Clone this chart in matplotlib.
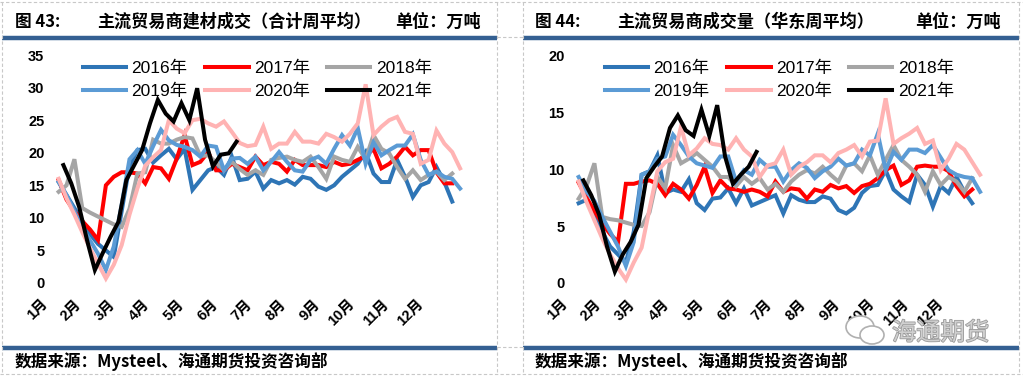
import matplotlib
matplotlib.use("Agg")
import matplotlib.pyplot as plt
import matplotlib.patheffects as pe
from matplotlib.lines import Line2D
from matplotlib.patches import Ellipse
import numpy as np

plt.rcParams['font.family'] = ['Liberation Sans', 'Noto Sans CJK SC']

# ---- data (weekly) ----
years = ['2016年', '2017年', '2018年', '2019年', '2020年', '2021年']
months = ['1月', '2月', '3月', '4月', '5月', '6月', '7月', '8月', '9月', '10月', '11月', '12月']

# left: 主流贸易商建材成交（合计周平均）
l2016 = [15.5, 13.5, 11.5, 9.5, 7.5, 6.0, 5.0, 4.0, 11.0, 18.0, 20.4, 20.6, 18.5, 19.6, 20.6, 19.0, 20.6,
         14.3, 15.8, 17.3, 17.8, 16.6, 19.4, 15.8, 16.0, 17.1, 14.5, 15.8, 15.3, 15.8, 15.1, 16.3, 16.0,
         14.8, 14.3, 15.0, 16.3, 17.3, 18.3, 20.1, 16.8, 15.5, 15.5, 18.9, 16.3, 13.2, 15.0, 15.5, 17.8,
         15.5, 12.5]
l2017 = [15.8, 12.8, 11.0, 9.5, 8.2, 6.6, 15.0, 16.3, 17.0, 17.0, 16.8, 15.3, 17.8, 17.6, 16.0, 19.1, 22.7,
         18.1, 18.6, 20.1, 17.3, 17.3, 18.3, 17.8, 17.3, 19.4, 18.1, 18.6, 18.3, 17.1, 18.9, 18.1, 18.1,
         18.1, 17.8, 18.6, 18.1, 18.3, 18.9, 19.5, 20.6, 17.6, 18.3, 19.4, 20.9, 19.6, 20.4, 20.4, 17.0,
         15.3, 15.3]
l2018 = [14.0, 15.0, 19.0, 11.5, 10.8, 10.2, 9.6, 9.0, 8.6, 11.4, 16.8, 17.0, 22.0, 21.4, 21.4, 22.0, 22.4,
         22.2, 19.5, 19.6, 18.5, 17.3, 18.6, 17.5, 16.6, 17.3, 16.6, 18.9, 19.2, 19.4, 18.9, 18.6, 19.4,
         17.8, 16.0, 19.4, 18.9, 18.6, 20.9, 19.0, 22.7, 20.6, 19.9, 17.8, 16.0, 17.3, 15.8, 16.6, 17.1,
         15.8, 16.8]
l2019 = [15.5, 13.5, 11.0, 8.5, 6.5, 4.5, 2.0, 5.6, 12.0, 19.0, 20.4, 18.3, 21.0, 23.5, 21.9, 21.2, 20.9,
         20.4, 19.4, 21.1, 20.9, 17.3, 19.1, 19.2, 18.3, 19.4, 17.3, 18.6, 20.1, 18.6, 17.3, 17.1, 18.9,
         19.4, 18.3, 20.6, 22.7, 21.1, 23.8, 18.3, 21.6, 19.6, 20.4, 21.1, 21.1, 22.8, 18.9, 16.6, 17.1,
         16.3, 16.0, 14.5]
l2020 = [16.0, 13.0, 10.5, 7.8, 5.3, 3.0, 0.7, 2.8, 5.8, 10.5, 14.5, 18.0, 19.3, 20.4, 25.0, 23.7, 23.0,
         25.0, 25.2, 24.5, 24.0, 24.8, 23.2, 21.5, 21.0, 21.2, 24.0, 20.6, 21.4, 21.4, 23.2, 21.7, 21.7,
         21.4, 22.9, 22.4, 21.7, 22.9, 24.5, 30.5, 22.7, 24.0, 25.0, 25.5, 23.2, 22.9, 18.3, 18.9, 23.4,
         21.4, 20.1, 17.6]
l2021 = [18.1, 15.3, 11.7, 6.6, 2.0, 4.6, 7.1, 9.4, 15.8, 18.1, 20.4, 24.5, 28.1, 26.0, 24.8, 27.6, 25.0,
         29.9, 22.0, 17.9, 19.7, 19.9, 21.7]

# right: 主流贸易商成交量（华东周平均）
r2016 = [7.0, 7.3, 6.0, 4.5, 3.2, 2.5, 1.8, 4.5, 9.5, 9.8, 11.2, 7.9, 8.2, 8.0, 9.1, 7.0, 6.4, 7.4, 7.5,
         8.3, 7.0, 8.3, 6.8, 7.1, 7.4, 7.7, 6.1, 7.7, 7.3, 7.1, 7.1, 7.6, 7.4, 6.4, 6.1, 6.6, 7.9, 8.5,
         8.6, 9.9, 8.2, 7.6, 7.1, 9.5, 8.6, 6.7, 8.5, 7.9, 9.3, 8.0, 7.0]
r2017 = [8.8, 7.5, 6.3, 5.2, 4.3, 3.6, 8.7, 8.7, 8.9, 9.0, 8.7, 7.7, 8.7, 8.2, 7.4, 8.6, 10.2, 7.9, 9.0,
         8.3, 8.2, 8.0, 8.2, 8.0, 7.6, 8.9, 8.0, 8.3, 8.2, 7.4, 8.2, 8.0, 8.6, 8.3, 8.5, 7.9, 8.5, 8.7,
         9.2, 9.9, 10.3, 8.6, 9.0, 10.2, 10.3, 10.2, 10.2, 9.8, 8.5, 7.6, 8.2]
r2018 = [7.4, 8.5, 10.5, 5.8, 5.6, 5.5, 5.3, 5.1, 5.0, 6.2, 9.3, 8.3, 12.1, 10.5, 10.9, 11.4, 10.8, 10.2,
         9.3, 9.3, 8.5, 9.3, 8.7, 9.2, 8.2, 8.7, 8.0, 8.9, 9.5, 9.9, 9.6, 10.2, 9.5, 8.9, 10.3, 10.5, 9.8,
         11.2, 9.5, 10.8, 12.1, 10.8, 10.2, 9.5, 8.0, 9.8, 8.6, 9.3, 8.9, 8.0, 9.2]
r2019 = [9.3, 8.0, 7.2, 5.8, 4.5, 3.2, 1.5, 3.6, 9.5, 9.8, 10.9, 11.1, 13.0, 12.1, 11.1, 10.5, 10.3, 10.1,
         11.1, 11.1, 8.9, 9.9, 9.5, 10.8, 10.2, 10.2, 8.9, 9.9, 10.5, 10.1, 9.2, 9.8, 10.2, 10.9, 10.3,
         10.5, 11.7, 11.2, 13.1, 9.9, 11.5, 10.8, 11.7, 11.7, 11.4, 12.1, 11.0, 9.9, 9.5, 9.3, 9.2, 8.0]
r2020 = [8.9, 7.1, 5.5, 3.9, 2.5, 1.3, 0.3, 1.8, 3.1, 6.5, 9.8, 10.6, 10.9, 13.7, 11.2, 11.8, 12.7, 12.2,
         12.1, 11.7, 12.7, 11.7, 11.1, 9.3, 10.3, 10.5, 11.7, 9.5, 10.2, 10.6, 11.2, 11.2, 10.6, 11.4,
         11.7, 12.1, 11.1, 12.4, 12.5, 16.2, 12.2, 12.7, 13.1, 13.6, 12.2, 12.5, 9.9, 10.9, 12.2, 11.7,
         10.6, 9.5]
r2021 = [9.0, 7.7, 6.0, 3.2, 1.0, 2.5, 3.6, 5.1, 9.2, 10.2, 11.1, 13.6, 14.7, 13.4, 12.9, 15.2, 12.9,
         15.6, 11.1, 8.7, 9.5, 10.2, 11.5]

colors = ['#2E75B6', '#FF0000', '#A5A5A5', '#5B9BD5', '#FFB3B3', '#000000']

W, H = 1023, 377
fig = plt.figure(figsize=(W / 100, H / 100), dpi=100)
fig.patch.set_facecolor('white')


def fx(px):
    return px / W


def fy(py):
    return 1 - py / H


def fline(x0, x1, y0, y1, **kw):
    fig.add_artist(Line2D([fx(x0), fx(x1)], [fy(y0), fy(y1)], transform=fig.transFigure, **kw))


def panel(x0, series, ymax, title_no, title, legend_x):
    ax = fig.add_axes([fx(x0), fy(283), fx(440), 228 / H])
    for i, (vals, c, lab) in enumerate(zip(series, colors, years)):
        xs = np.arange(len(vals)) + (0.6 if i == 5 else 0)
        ax.plot(xs, vals, color=c, lw=2.9, label=lab, solid_joinstyle='miter', clip_on=False)
    ax.set_xlim(-0.886, 54.8)
    ax.set_ylim(0, ymax)
    ax.set_yticks(np.arange(0, ymax + 1, 5))
    ax.set_yticklabels([str(v) for v in range(0, ymax + 1, 5)], fontsize=10.5, fontweight='bold')
    ax.set_xticks(-1.1 + 4.34 * np.arange(12))
    ax.set_xticklabels(months, rotation=45, ha='right', va='top', fontsize=10.5, fontweight='bold')
    ax.tick_params(axis='both', length=0)
    ax.tick_params(axis='x', pad=10)
    ax.tick_params(axis='y', pad=4)
    for s in ax.spines.values():
        s.set_visible(False)
    h, l = ax.get_legend_handles_labels()
    order = [0, 3, 1, 4, 2, 5]
    ax.legend([h[k] for k in order], [l[k] for k in order], ncol=3, frameon=False,
              loc='upper left', bbox_to_anchor=(fx(legend_x), fy(61)), bbox_transform=fig.transFigure,
              borderpad=0, borderaxespad=0, fontsize=12.5, handlelength=2.5, handletextpad=0.3,
              columnspacing=1.0, labelspacing=0.45)
    fig.text(fx(x0 - 35), fy(22), title_no, fontsize=12, fontweight='bold', va='center',
             family=['Noto Sans CJK SC'])
    fig.text(fx(x0 + 47), fy(22), title, fontsize=12.3, fontweight='bold', va='center',
             family=['Noto Sans CJK SC'])
    fig.text(fx(x0 + 345), fy(22), '单位：万吨', fontsize=12.3, fontweight='bold', va='center',
             family=['Noto Sans CJK SC'])
    fig.text(fx(x0 - 35), fy(362), '数据来源：Mysteel、海通期货投资咨询部', fontsize=12,
             fontweight='bold', va='center', family=['Noto Sans CJK SC'])
    return ax


panel(50, [l2016, l2017, l2018, l2019, l2020, l2021], 35, '图 43:',
      '主流贸易商建材成交（合计周平均）', 83)
panel(570, [r2016, r2017, r2018, r2019, r2020, r2021], 20, '图 44:',
      '主流贸易商成交量（华东周平均）', 605)

# blue rules
blue = '#346092'
for a, b in [(2, 497), (523, 1019)]:
    fline(a, b, 38, 38, color=blue, lw=3.2, solid_capstyle='butt')
    fline(a, b, 348, 348, color=blue, lw=3.2, solid_capstyle='butt')

# dashed cell borders
dash = dict(color='#c8c8c8', lw=0.8, ls=(0, (3, 2)))
fline(0, W, 2, 2, **dash)
fline(0, W, 374, 374, **dash)
for x in (2, 497, 523, 1019):
    fline(x, x, 2, 374, **dash)
fline(497, 523, 37, 37, **dash)
fline(497, 523, 347, 347, **dash)

# watermark
wm = '#b0b0b0'
fig.add_artist(Ellipse((fx(860), fy(327)), fx(28), 22 / H, transform=fig.transFigure,
                       facecolor='white', edgecolor=wm, lw=1.2))
fig.add_artist(Ellipse((fx(872), fy(335)), fx(24), 18 / H, transform=fig.transFigure,
                       facecolor='white', edgecolor=wm, lw=1.2))
fig.text(fx(892), fy(333), '海通期货', fontsize=17.5, color='#d0d0d0', va='center',
         family=['Noto Sans CJK SC'],
         path_effects=[pe.withStroke(linewidth=1.2, foreground='#9a9a9a')])

fig.savefig('out.png', dpi=100, facecolor='white')
